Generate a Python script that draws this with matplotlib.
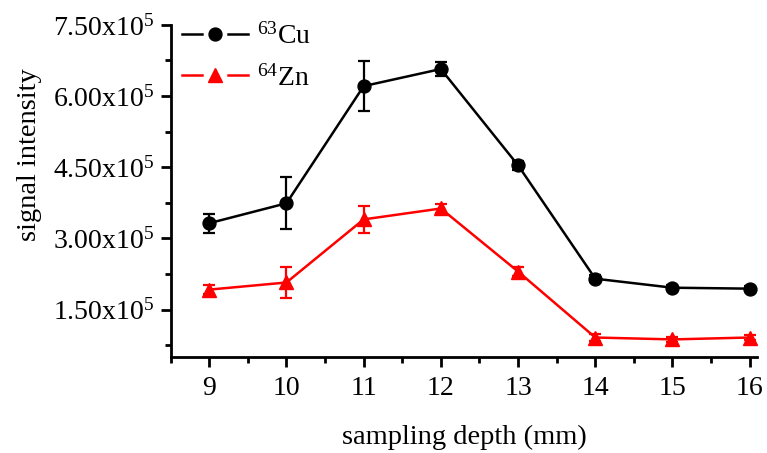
import matplotlib
matplotlib.use("Agg")
import matplotlib.pyplot as plt
from matplotlib.ticker import FixedLocator, MultipleLocator
from matplotlib.lines import Line2D
from matplotlib.legend_handler import HandlerTuple

plt.rcParams['font.family'] = ['Liberation Serif', 'DejaVu Serif']
plt.rcParams['mathtext.fontset'] = 'custom'
plt.rcParams['mathtext.rm'] = 'Liberation Serif'
plt.rcParams['mathtext.it'] = 'Liberation Serif:italic'

depth = [9, 10, 11, 12, 13, 14, 15, 16]
cu = [3.32e5, 3.74e5, 6.21e5, 6.57e5, 4.54e5, 2.15e5, 1.96e5, 1.94e5]
cu_err = [0.2e5, 0.55e5, 0.53e5, 0.14e5, 0.1e5, 0.08e5, 0.05e5, 0.05e5]
zn = [1.92e5, 2.07e5, 3.40e5, 3.63e5, 2.30e5, 0.91e5, 0.87e5, 0.91e5]
zn_err = [0.1e5, 0.33e5, 0.28e5, 0.1e5, 0.1e5, 0.08e5, 0.06e5, 0.06e5]
yticks = [1.5e5, 3.0e5, 4.5e5, 6.0e5, 7.5e5]
ytick_labels = [r"1.50x10$^{5}$", r"3.00x10$^{5}$", r"4.50x10$^{5}$", r"6.00x10$^{5}$", r"7.50x10$^{5}$"]
labels = [r"$^{63}$Cu", r"$^{64}$Zn"]

fig = plt.figure(figsize=(7.67, 4.53), dpi=100)
ax = fig.add_axes([0.2225, 0.212, 0.765, 0.733])

ms = 9.3
lw = 1.8
ax.errorbar(depth, cu, yerr=cu_err, color='black', marker='o', markersize=ms,
            linewidth=lw, elinewidth=1.6, capsize=4, capthick=1.6)
ax.errorbar(depth, zn, yerr=zn_err, color='red', marker='^', markersize=ms + 0.5,
            linewidth=lw, elinewidth=1.6, capsize=4, capthick=1.6)

ax.set_xlim(8.5, 16.1)
ax.set_ylim(0.5e5, 7.5e5)
ax.set_xticks(depth)
ax.set_xticklabels([str(d) for d in depth])
ax.xaxis.set_minor_locator(MultipleLocator(0.5))
ax.set_yticks(yticks)
ax.set_yticklabels(ytick_labels)
ax.yaxis.set_minor_locator(FixedLocator([0.75e5, 2.25e5, 3.75e5, 5.25e5, 6.75e5]))

for s in ['top', 'right']:
    ax.spines[s].set_visible(False)
for s in ['left', 'bottom']:
    ax.spines[s].set_linewidth(2)

ax.tick_params(axis='both', which='major', direction='out', length=7, width=2, labelsize=20, pad=5)
ax.tick_params(axis='x', which='major', pad=7)
ax.tick_params(axis='both', which='minor', direction='out', length=4, width=2)

ax.set_xlabel("sampling depth (mm)", fontsize=20.5, labelpad=17)
ax.set_ylabel("signal intensity", fontsize=20.5)
ax.yaxis.set_label_coords(-0.219, 0.608)


def handle(color, marker, size):
    base = Line2D([], [], color=color, linewidth=lw, marker='o', markersize=17,
                  markerfacecolor='white', markeredgecolor='white', markeredgewidth=0)
    mk = Line2D([], [], linestyle='none', color=color, marker=marker, markersize=size)
    return (base, mk)


handles = [handle('black', 'o', ms), handle('red', '^', ms + 0.5)]

leg = ax.legend(handles, labels, handler_map={tuple: HandlerTuple(ndivide=1, pad=0)},
                loc='upper left', frameon=False, fontsize=20,
                handlelength=2.4, borderaxespad=0.0, borderpad=0.0,
                bbox_to_anchor=(0.019, 1.006), labelspacing=0.55, handletextpad=0.3)

fig.savefig("out.png", dpi=100)
